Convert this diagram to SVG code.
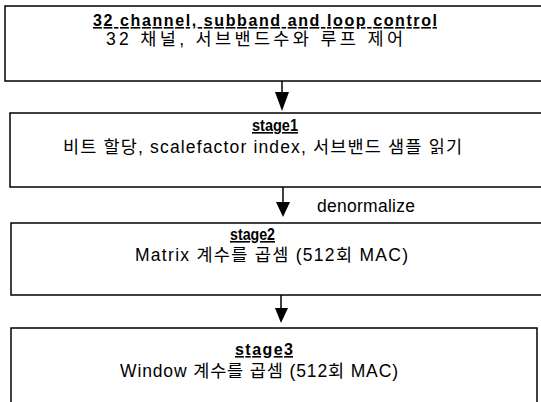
<svg xmlns="http://www.w3.org/2000/svg" width="541" height="402" viewBox="0 0 541 402">
<style>
.box{fill:#fff;stroke:#000;stroke-width:1.5}
.h{font-family:"Liberation Sans","Noto Sans CJK KR",sans-serif;font-weight:bold;font-size:16px;text-decoration:underline;fill:#000}
.t{font-family:"Liberation Sans","Noto Sans CJK KR",sans-serif;font-size:17.5px;fill:#000}
.ln{stroke:#000;stroke-width:1.5;fill:none}
.ah{fill:#000}
</style>
<rect width="541" height="402" fill="#fff"/>
<g id="node1">
<rect class="box" x="5" y="6" width="545" height="75"/>
<text class="h" x="93" y="26" textLength="344" lengthAdjust="spacing">32 channel, subband and loop control</text>
<text class="t" x="106" y="45" textLength="297" lengthAdjust="spacing">32 채널, 서브밴드수와 루프 제어</text>
</g>
<g id="node2">
<rect class="box" x="10" y="113" width="545" height="74"/>
<text class="h" x="252" y="131" textLength="46" lengthAdjust="spacingAndGlyphs">stage1</text>
<text class="t" x="63" y="153" textLength="399" lengthAdjust="spacing">비트 할당, scalefactor index, 서브밴드 샘플 읽기</text>
</g>
<g id="node3">
<rect class="box" x="11" y="223" width="545" height="72"/>
<text class="h" x="230" y="240" textLength="45" lengthAdjust="spacingAndGlyphs">stage2</text>
<text class="t" x="135" y="261" textLength="273" lengthAdjust="spacing">Matrix 계수를 곱셈 (512회 MAC)</text>
</g>
<g id="node4">
<path class="box" d="M11,410 V328 H537 V410"/>
<text class="h" x="235" y="355" textLength="58" lengthAdjust="spacing">stage3</text>
<text class="t" x="120" y="377" textLength="278" lengthAdjust="spacing">Window 계수를 곱셈 (512회 MAC)</text>
</g>
<g id="connectors">
<line class="ln" x1="282" y1="81" x2="282" y2="93"/>
<polygon class="ah" points="275,92 289,92 282,111"/>
<line class="ln" x1="283" y1="187" x2="283" y2="203"/>
<polygon class="ah" points="276,202 290,202 283,217"/>
<text class="t" x="317" y="212" textLength="98" lengthAdjust="spacing">denormalize</text>
<line class="ln" x1="281" y1="295" x2="281" y2="309"/>
<polygon class="ah" points="275,308 288,308 281,323"/>
</g>
</svg>
